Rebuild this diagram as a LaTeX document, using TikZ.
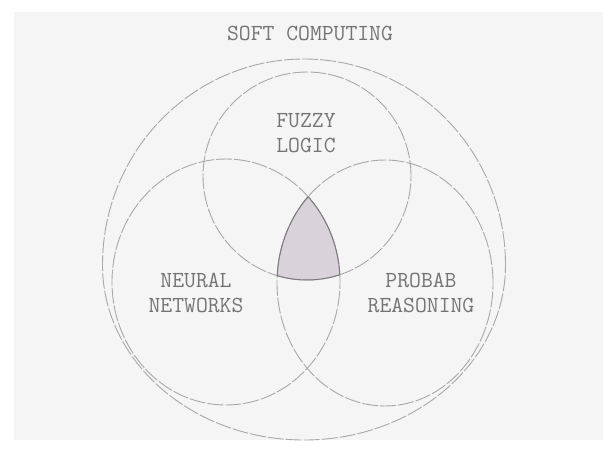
\documentclass[tikz,border=0pt]{standalone}
\usepackage{fontspec}
\usetikzlibrary{shapes.geometric}
\definecolor{bggray}{HTML}{F5F5F5}
\definecolor{linegray}{HTML}{A8A8A8}
\definecolor{txtgray}{HTML}{747474}
\definecolor{shadefill}{HTML}{D9D2DA}
\definecolor{edgegray}{HTML}{7C787E}
\begin{document}
\begin{tikzpicture}[x=1pt,y=-1pt,
  ringline/.style={draw=linegray, line width=0.9pt, dash pattern=on 16pt off 2pt},
  ring/.style={ringline, inner sep=0pt, outer sep=0pt},
  lbl/.style={text=txtgray, font=\ttfamily\fontsize{23}{25}\selectfont, align=center, inner sep=0pt}]
\fill[white] (0,0) rectangle (616,450);
\useasboundingbox (0,0) rectangle (616,450);
\fill[bggray] (14,12) rectangle (603,440);
\coordinate (cF) at (307,176);
\coordinate (cN) at (226,282);
\coordinate (cP) at (385,283);
\coordinate (softE) at (505.5,265);
% shaded triple intersection
\begin{scope}
  \clip (cF) circle[radius=104pt];
  \clip (cN) ellipse[x radius=114pt, y radius=123pt];
  \fill[shadefill] (cP) ellipse[x radius=108pt, y radius=123pt];
\end{scope}
% outer (soft computing) boundary
\draw[ringline] (softE) arc[start angle=0, end angle=180, x radius=201.5pt, y radius=206pt]
  arc[start angle=180, end angle=360, x radius=201.5pt, y radius=175pt] -- cycle;
\node[ring, circle, minimum size=208pt] (fuzzy) at (cF) {};
\node[ring, ellipse, minimum width=228pt, minimum height=246pt] (neural) at (cN) {};
\node[ring, ellipse, minimum width=216pt, minimum height=246pt] (probab) at (cP) {};
% darker outline of the shaded region
\begin{scope}
  \clip (cF) circle[radius=104pt];
  \clip (cN) ellipse[x radius=114pt, y radius=123pt];
  \draw[edgegray, line width=1pt] (cP) ellipse[x radius=108pt, y radius=123pt];
\end{scope}
\begin{scope}
  \clip (cF) circle[radius=104pt];
  \clip (cP) ellipse[x radius=108pt, y radius=123pt];
  \draw[edgegray, line width=1pt] (cN) ellipse[x radius=114pt, y radius=123pt];
\end{scope}
\begin{scope}
  \clip (cN) ellipse[x radius=114pt, y radius=123pt];
  \clip (cP) ellipse[x radius=108pt, y radius=123pt];
  \draw[edgegray, line width=1pt] (cF) circle[radius=104pt];
\end{scope}
\node[lbl] (softlbl) at (310,33) {SOFT COMPUTING};
\node[lbl] (fuzzylbl) at (306,133) {FUZZY\\LOGIC};
\node[lbl] (neurallbl) at (196,293) {NEURAL\\NETWORKS};
\node[lbl] (probablbl) at (421,293) {PROBAB\\REASONING};
\end{tikzpicture}
\end{document}
